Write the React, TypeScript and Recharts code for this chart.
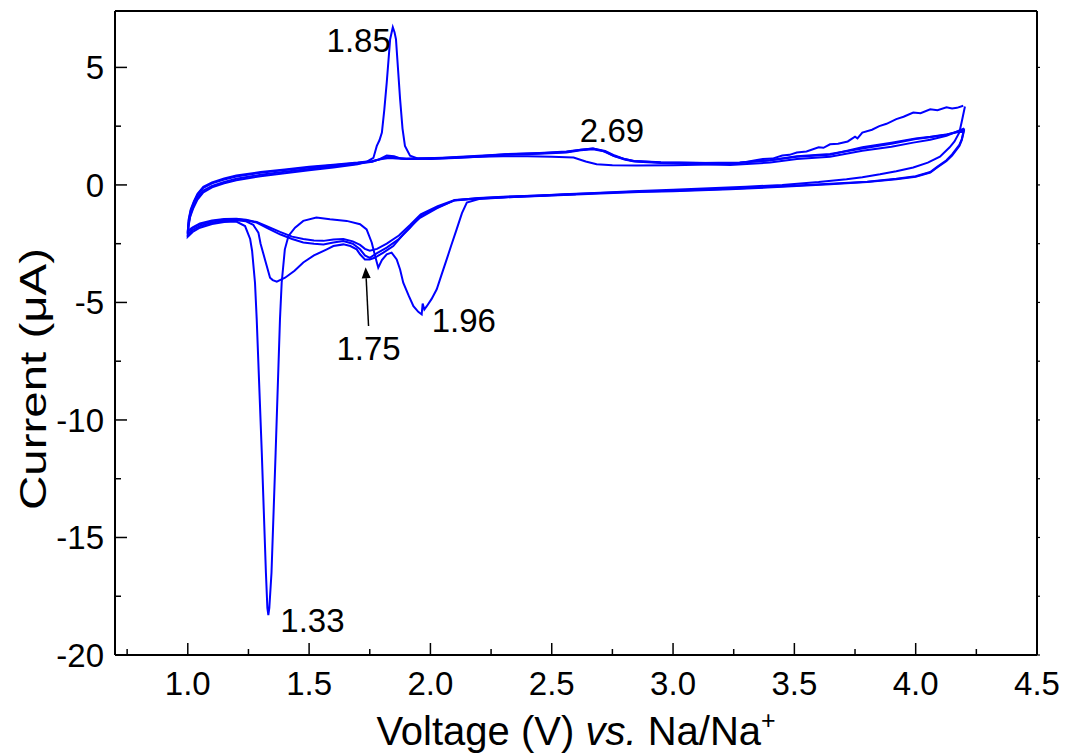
import React from 'react';
import { ComposedChart, Line, XAxis, YAxis, Scatter, ReferenceLine } from 'recharts';

// ---------- data (voltage V vs. Na/Na+, current µA) ----------
const cycle1Cathodic: number[][] = [
  [2.60, -0.40], [2.45, -0.46], [2.30, -0.53], [2.20, -0.60], [2.15, -0.75], [2.13, -1.2],
  [2.108, -1.89], [2.085, -2.6], [2.067, -3.17], [2.045, -3.85], [2.026, -4.44], [2.005, -4.85],
  [1.985, -5.16], [1.975, -5.3], [1.968, -5.05], [1.964, -5.51], [1.95, -5.4], [1.93, -5.16],
  [1.91, -4.7], [1.888, -4.16], [1.875, -3.6], [1.861, -3.17], [1.84, -2.88], [1.82, -2.95],
  [1.80, -3.2], [1.785, -3.52], [1.772, -3.02], [1.758, -2.45], [1.737, -1.89], [1.71, -1.67],
  [1.655, -1.53], [1.586, -1.46], [1.53, -1.39], [1.476, -1.53], [1.442, -1.82], [1.415, -2.17],
  [1.40, -2.74], [1.387, -4.16], [1.38, -5.7], [1.362, -11.4], [1.345, -16.5], [1.336, -18.0],
  [1.332, -18.3], [1.328, -18.0], [1.322, -16.5], [1.305, -11.4], [1.284, -5.7], [1.277, -4.16],
  [1.265, -2.8], [1.257, -2.3], [1.236, -1.75], [1.20, -1.56], [1.15, -1.58], [1.10, -1.66],
  [1.05, -1.82], [1.02, -2.0], [1.0, -2.2],
];
const cycle1Anodic: number[][] = [
  [1.0, -2.2], [1.003, -1.75], [1.01, -1.35], [1.023, -0.98], [1.04, -0.62], [1.064, -0.32],
  [1.10, -0.1], [1.15, 0.07], [1.2, 0.2], [1.3, 0.37], [1.4, 0.5], [1.5, 0.62], [1.6, 0.74],
  [1.7, 0.88], [1.74, 1.0], [1.765, 1.15], [1.779, 1.66], [1.79, 1.9], [1.80, 2.23], [1.81, 3.2],
  [1.82, 4.36], [1.834, 6.2], [1.845, 6.71], [1.852, 6.5], [1.858, 6.2], [1.866, 5.0],
  [1.875, 3.65], [1.885, 2.4], [1.895, 1.66], [1.916, 1.24], [1.95, 1.12], [2.0, 1.1],
  [2.1, 1.15], [2.2, 1.2], [2.3, 1.22], [2.4, 1.22], [2.5, 1.2], [2.59, 1.17], [2.64, 1.0],
  [2.685, 0.88], [2.75, 0.84], [2.85, 0.83], [3.0, 0.84], [3.1, 0.86], [3.235, 0.88],
  [3.3, 0.98], [3.34, 1.05], [3.37, 1.1], [3.41, 1.12], [3.45, 1.25], [3.48, 1.28],
  [3.51, 1.38], [3.55, 1.42], [3.6, 1.6], [3.62, 1.58], [3.647, 1.73], [3.68, 1.75],
  [3.72, 1.85], [3.75, 2.05], [3.76, 1.98], [3.78, 2.23], [3.82, 2.35], [3.85, 2.5],
  [3.88, 2.6], [3.92, 2.8], [3.95, 2.9], [3.99, 3.08], [4.02, 3.05], [4.06, 3.22],
  [4.09, 3.18], [4.127, 3.3], [4.15, 3.25], [4.17, 3.28], [4.196, 3.37],
];
const cycle2Cathodic: number[][] = [
  [4.203, 3.34], [4.19, 2.7], [4.18, 2.23], [4.16, 1.85], [4.14, 1.6], [4.10, 1.2],
  [4.05, 0.95], [3.99, 0.74], [3.92, 0.58], [3.853, 0.45], [3.78, 0.33], [3.715, 0.24],
  [3.6, 0.12], [3.45, 0.0], [3.3, -0.08], [3.15, -0.14], [3.0, -0.2], [2.86, -0.26],
  [2.7, -0.33], [2.55, -0.4], [2.45, -0.45], [2.3, -0.5], [2.2, -0.56], [2.1, -0.65],
  [2.026, -1.0], [1.957, -1.4], [1.92, -1.75], [1.888, -2.1], [1.847, -2.6], [1.806, -2.88],
  [1.77, -3.1], [1.75, -3.17], [1.73, -3.17], [1.71, -2.95], [1.696, -2.74], [1.67, -2.6],
  [1.641, -2.53], [1.6, -2.6], [1.573, -2.74], [1.52, -3.0], [1.476, -3.3], [1.44, -3.65],
  [1.401, -3.95], [1.367, -4.12], [1.35, -4.05], [1.339, -3.95], [1.318, -3.17], [1.30, -2.5],
  [1.291, -2.03], [1.27, -1.7], [1.24, -1.55], [1.20, -1.5], [1.15, -1.52], [1.10, -1.6],
  [1.05, -1.75], [1.02, -1.92], [1.0, -2.1],
];
const cycle2Anodic: number[][] = [
  [1.0, -2.1], [1.004, -1.62], [1.012, -1.22], [1.025, -0.87], [1.04, -0.53], [1.064, -0.24],
  [1.1, -0.04], [1.15, 0.13], [1.2, 0.26], [1.3, 0.43], [1.4, 0.56], [1.5, 0.68], [1.6, 0.79],
  [1.7, 0.9], [1.76, 0.98], [1.79, 1.1], [1.82, 1.25], [1.85, 1.22], [1.88, 1.12],
  [1.95, 1.12], [2.05, 1.15], [2.2, 1.22], [2.31, 1.3], [2.45, 1.35], [2.56, 1.4],
  [2.62, 1.5], [2.67, 1.55], [2.71, 1.45], [2.754, 1.24], [2.8, 1.1], [2.836, 1.02],
  [2.95, 0.95], [3.1, 0.93], [3.276, 0.95], [3.4, 1.05], [3.51, 1.22], [3.647, 1.32],
  [3.78, 1.55], [3.9, 1.75], [4.0, 1.95], [4.06, 2.03], [4.13, 2.15], [4.2, 2.35],
];
const cycle3Cathodic: number[][] = [
  [4.2, 2.35], [4.19, 1.9], [4.18, 1.66], [4.15, 1.25], [4.127, 1.02], [4.09, 0.75],
  [4.06, 0.53], [4.0, 0.35], [3.92, 0.24], [3.8, 0.12], [3.647, 0.03], [3.45, -0.08],
  [3.235, -0.18], [3.0, -0.27], [2.86, -0.3], [2.7, -0.36], [2.45, -0.47], [2.3, -0.53],
  [2.2, -0.58], [2.1, -0.66], [2.03, -0.95], [1.96, -1.3], [1.916, -1.82], [1.87, -2.3],
  [1.82, -2.67], [1.78, -2.9], [1.75, -3.1], [1.73, -3.0], [1.71, -2.74], [1.68, -2.5],
  [1.641, -2.39], [1.6, -2.45], [1.559, -2.53], [1.52, -2.5], [1.476, -2.45], [1.43, -2.3],
  [1.38, -2.1], [1.33, -1.85], [1.284, -1.6], [1.24, -1.5], [1.2, -1.46], [1.15, -1.47],
  [1.1, -1.54], [1.05, -1.68], [1.02, -1.84], [1.0, -2.0],
];
const cycle3Anodic: number[][] = [
  [1.0, -2.0], [1.004, -1.5], [1.012, -1.1], [1.025, -0.74], [1.04, -0.42], [1.064, -0.12],
  [1.1, 0.07], [1.15, 0.23], [1.2, 0.36], [1.3, 0.52], [1.4, 0.63], [1.5, 0.74], [1.6, 0.84],
  [1.7, 0.93], [1.76, 1.0], [1.8, 1.12], [1.83, 1.2], [1.86, 1.16], [1.9, 1.1], [1.95, 1.1],
  [2.05, 1.13], [2.2, 1.2], [2.31, 1.28], [2.45, 1.33], [2.56, 1.38], [2.62, 1.47],
  [2.67, 1.52], [2.72, 1.42], [2.76, 1.22], [2.8, 1.08], [2.84, 1.0], [2.95, 0.93],
  [3.1, 0.9], [3.235, 0.85], [3.4, 0.95], [3.51, 1.1], [3.647, 1.2], [3.78, 1.45],
  [3.9, 1.62], [3.99, 1.8], [4.06, 1.92], [4.127, 2.09], [4.2, 2.4],
];
const cycle4Cathodic: number[][] = [
  [4.2, 2.4], [4.19, 1.95], [4.18, 1.7], [4.15, 1.3], [4.127, 1.05], [4.09, 0.78],
  [4.06, 0.55], [4.0, 0.37], [3.92, 0.26], [3.8, 0.14], [3.647, 0.05], [3.45, -0.06],
  [3.235, -0.16], [3.0, -0.25], [2.86, -0.28], [2.7, -0.34], [2.45, -0.45], [2.3, -0.51],
  [2.2, -0.57], [2.1, -0.64], [2.03, -0.9], [1.96, -1.25], [1.916, -1.7], [1.87, -2.15],
  [1.82, -2.5], [1.78, -2.72], [1.75, -2.8], [1.73, -2.72], [1.71, -2.55], [1.68, -2.4],
  [1.641, -2.3], [1.6, -2.32], [1.559, -2.38], [1.52, -2.36], [1.476, -2.3], [1.43, -2.2],
  [1.38, -2.0], [1.33, -1.78], [1.284, -1.58], [1.24, -1.48], [1.2, -1.44], [1.15, -1.45],
  [1.1, -1.51], [1.05, -1.64], [1.02, -1.8], [1.0, -1.95],
];
const cycle4Anodic: number[][] = [
  [1.0, -1.95], [1.004, -1.45], [1.012, -1.05], [1.025, -0.7], [1.04, -0.38], [1.064, -0.08],
  [1.1, 0.11], [1.15, 0.27], [1.2, 0.4], [1.3, 0.55], [1.4, 0.66], [1.5, 0.77], [1.6, 0.86],
  [1.7, 0.95], [1.76, 1.02], [1.8, 1.1], [1.83, 1.15], [1.86, 1.12], [1.9, 1.1], [1.95, 1.12],
  [2.05, 1.16], [2.2, 1.24], [2.31, 1.31], [2.45, 1.36], [2.56, 1.42], [2.62, 1.5],
  [2.67, 1.55], [2.72, 1.45], [2.76, 1.25], [2.8, 1.1], [2.84, 1.02], [2.95, 0.96],
  [3.1, 0.94], [3.235, 0.9], [3.4, 1.05], [3.51, 1.2], [3.647, 1.28], [3.78, 1.6],
  [3.9, 1.8], [4.0, 1.98], [4.06, 2.05], [4.127, 2.15], [4.2, 2.3],
];

const xTicks = [0.75, 1.0, 1.25, 1.5, 1.75, 2.0, 2.25, 2.5, 2.75, 3.0, 3.25, 3.5, 3.75, 4.0, 4.25, 4.5];
const yTicks = [-20, -17.5, -15, -12.5, -10, -7.5, -5, -2.5, 0, 2.5, 5];
const xDomain = [0.7, 4.5];
const yDomain = [-20, 7.4];

const peakLabels = [
  { v: 1.845, i: 6.71, text: '1.85' },
  { v: 2.67, i: 1.55, text: '2.69' },
  { v: 1.964, i: -5.51, text: '1.96' },
  { v: 1.332, i: -18.3, text: '1.33' },
  { v: 1.745, i: -6.0, text: '1.75' },
];
const arrowFrom = { v: 1.745, i: -6.0 };
const arrowTo = { v: 1.733, i: -3.5 };

// ---------- styling ----------
const FONT = "'Liberation Sans', Arial, Helvetica, sans-serif";
const BLUE = '#0000ff';
const labelStyle: Record<string, { dx: number; dy: number; anchor: 'start' | 'middle' | 'end' }> = {
  '1.85': { dx: -2, dy: 25, anchor: 'end' },
  '2.69': { dx: 19, dy: -6, anchor: 'middle' },
  '1.96': { dx: 10, dy: 18, anchor: 'start' },
  '1.33': { dx: 12, dy: 17, anchor: 'start' },
  '1.75': { dx: 0, dy: 34, anchor: 'middle' },
};

const toPts = (arr: number[][]) => arr.map(([v, i]) => ({ v, i }));
const cycles = [
  [...cycle1Cathodic, ...cycle1Anodic],
  [...cycle2Cathodic, ...cycle2Anodic],
  [...cycle3Cathodic, ...cycle3Anodic],
  [...cycle4Cathodic, ...cycle4Anodic],
].map(toPts);

const isMajor = (v: number, step: number) => Math.abs(v / step - Math.round(v / step)) < 1e-6;

const XTick = (props: any) => {
  const { x, y, payload } = props;
  const v = payload.value as number;
  const major = isMajor(v, 0.5) && v >= 1;
  return (
    <g>
      <line x1={x} y1={y} x2={x} y2={y - (major ? 12 : 6)} stroke="#000" strokeWidth={1.5} />
      {major && (
        <text x={x} y={y + 40} textAnchor="middle" fontSize={33} fontFamily={FONT} fill="#000">
          {v.toFixed(1)}
        </text>
      )}
    </g>
  );
};

const YTick = (props: any) => {
  const { x, y, payload } = props;
  const v = payload.value as number;
  const major = isMajor(v, 5);
  return (
    <g>
      <line x1={x} y1={y} x2={x + (major ? 12 : 6)} y2={y} stroke="#000" strokeWidth={1.5} />
      {major && (
        <text x={x - 11} y={y + 12} textAnchor="end" fontSize={33} fontFamily={FONT} fill="#000">
          {v}
        </text>
      )}
    </g>
  );
};

const RTick = (props: any) => {
  const { x, y } = props;
  return <line x1={x} y1={y} x2={x + 3} y2={y} stroke="#000" strokeWidth={1.2} />;
};

const PeakLabel = (props: any) => {
  const { cx, cy, payload } = props;
  const s = labelStyle[payload.text];
  return (
    <text x={cx + s.dx} y={cy + s.dy} textAnchor={s.anchor} fontSize={33} fontFamily={FONT} fill="#000">
      {payload.text}
    </text>
  );
};

const ArrowShape = (props: any) => {
  const { x1, y1, x2, y2 } = props;
  const dx = x2 - x1;
  const dy = y2 - y1;
  const len = Math.sqrt(dx * dx + dy * dy) || 1;
  const ux = dx / len;
  const uy = dy / len;
  const hl = 11;
  const hw = 4.5;
  const bx = x2 - ux * hl;
  const by = y2 - uy * hl;
  return (
    <g>
      <line x1={x1} y1={y1} x2={bx} y2={by} stroke="#000" strokeWidth={1.5} />
      <polygon
        points={`${x2},${y2} ${bx - uy * hw},${by + ux * hw} ${bx + uy * hw},${by - ux * hw}`}
        fill="#000"
      />
    </g>
  );
};

const XTitle = () => (
  <text x={576} y={745} textAnchor="middle" fontSize={40} fontFamily={FONT} fill="#000">
    Voltage (V) <tspan fontStyle="italic">vs.</tspan> Na/Na
    <tspan dy={-16} fontSize={25}>+</tspan>
  </text>
);

const YTitle = () => (
  <text
    x={46}
    y={379}
    transform="rotate(-90, 46, 379)"
    textAnchor="middle"
    fontSize={37}
    fontFamily={FONT}
    fill="#000"
    textLength={262}
    lengthAdjust="spacingAndGlyphs"
  >
    Current (μA)
  </text>
);

export default function App() {
  return (
    <div style={{ position: 'absolute', left: 0, top: 0, width: 1068, height: 754, background: '#fff' }}>
      <ComposedChart width={1068} height={754} margin={{ top: 0, right: 0, bottom: 0, left: 0 }}>
        <XAxis
          xAxisId="b"
          dataKey="v"
          type="number"
          domain={xDomain}
          ticks={xTicks}
          allowDataOverflow
          orientation="bottom"
          height={99}
          tickSize={0}
          tickMargin={0}
          tickLine={false}
          tick={<XTick />}
          axisLine={{ stroke: '#000', strokeWidth: 2 }}
          interval={0}
          label={{ content: () => <XTitle /> }}
        />
        <XAxis
          xAxisId="t"
          type="number"
          domain={xDomain}
          allowDataOverflow
          orientation="top"
          height={11}
          tick={false}
          tickLine={false}
          axisLine={{ stroke: '#000', strokeWidth: 2 }}
        />
        <YAxis
          yAxisId="l"
          dataKey="i"
          type="number"
          domain={yDomain}
          ticks={yTicks}
          allowDataOverflow
          orientation="left"
          width={115}
          tickSize={0}
          tickMargin={0}
          tickLine={false}
          tick={<YTick />}
          axisLine={{ stroke: '#000', strokeWidth: 2 }}
          interval={0}
          label={{ content: () => <YTitle /> }}
        />
        <YAxis
          yAxisId="r"
          type="number"
          domain={yDomain}
          ticks={yTicks}
          allowDataOverflow
          orientation="right"
          width={31}
          tickSize={0}
          tickMargin={0}
          tickLine={false}
          tick={<RTick />}
          axisLine={{ stroke: '#000', strokeWidth: 2 }}
          interval={0}
        />
        {cycles.map((data, k) => (
          <Line
            key={k}
            xAxisId="b"
            yAxisId="l"
            data={data}
            dataKey="i"
            type="linear"
            stroke={BLUE}
            strokeWidth={2}
            dot={false}
            activeDot={false}
            isAnimationActive={false}
          />
        ))}
        <ReferenceLine
          xAxisId="b"
          yAxisId="l"
          segment={[
            { x: arrowFrom.v, y: arrowFrom.i },
            { x: arrowTo.v, y: arrowTo.i },
          ]}
          shape={<ArrowShape />}
          ifOverflow="visible"
        />
        <Scatter
          xAxisId="b"
          yAxisId="l"
          data={peakLabels}
          dataKey="i"
          shape={<PeakLabel />}
          isAnimationActive={false}
        />
      </ComposedChart>
    </div>
  );
}
